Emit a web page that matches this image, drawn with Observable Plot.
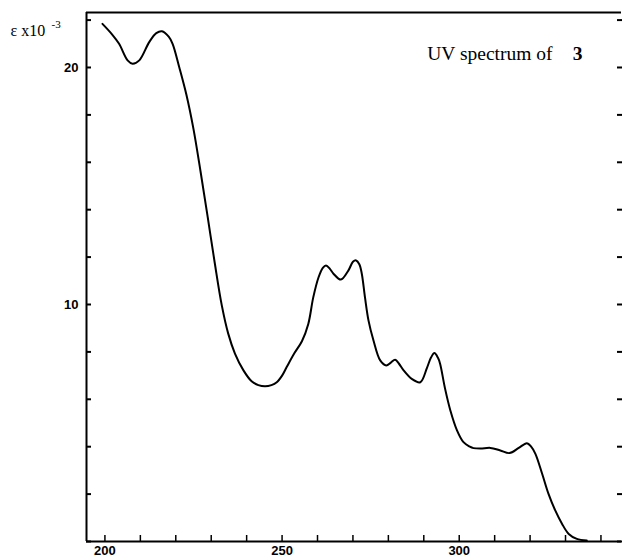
<!DOCTYPE html>
<html><head><meta charset="utf-8">
<script src="https://cdn.jsdelivr.net/npm/d3@7"></script>
<script src="https://cdn.jsdelivr.net/npm/@observablehq/plot@0.6"></script>
<style>body{margin:0;background:#fff}</style>
</head><body><div id="chart"></div>
<script>
const wavelength = [199.3,202,204,206.4,207.8,209.7,212.5,214.5,216.1,218,219.1,221.0,223,225,227,229,231,233.0,234.8,236.7,239.1,241.4,243.3,245.2,247,248.5,250,251.3,253.5,255.6,257.4,258.8,260.3,261.5,262.4,263.5,264.5,266.6,268.7,270.0,270.9,271.8,272.5,273.4,274.4,275.8,277.7,279.4,280.7,281.9,283,284.3,286.6,289.0,290.9,292.0,293.0,294.0,294.6,296.0,297.5,299.4,301.2,303,304.0,306,308.8,311.6,314.2,316.8,319.1,320.3,321.5,323.4,325.2,327.1,329.0,330.9,333.2,336.0];
const epsilon = [21.84,21.4,21.0,20.3,20.16,20.3,21.07,21.45,21.53,21.3,21.0,20.0,18.85,17.4,15.6,13.7,11.75,9.95,8.77,7.93,7.22,6.76,6.6,6.55,6.6,6.72,7.0,7.36,7.95,8.45,9.18,10.3,11.15,11.55,11.65,11.5,11.3,11.05,11.43,11.8,11.86,11.7,11.3,10.3,9.32,8.48,7.64,7.43,7.55,7.67,7.5,7.22,6.86,6.72,7.33,7.75,7.95,7.75,7.5,6.45,5.53,4.68,4.19,4.0,3.94,3.92,3.95,3.84,3.73,3.95,4.15,4.0,3.70,2.86,2.01,1.31,0.75,0.32,0.11,0.04];
const xMajorTicks = [200, 250, 300];
const xMinorTicks = [200,210,220,230,240,250,260,270,280,290,300,310,320,330,340];
const yTicks = [0,2,4,6,8,10,12,14,16,18,20,22];
const yLabelTicks = [10, 20];
const xDomain = [194.8, 345.8];
const yDomain = [0, 22.32];
const titleText = "UV spectrum of";
const titleNumber = "3";
const yLabelText = "ε x10";
const yLabelExp = "-3";

const data = wavelength.map((w, i) => ({w, e: epsilon[i]}));
const tickFont = "'Liberation Sans', Arial, sans-serif";
const serif = "'Liberation Serif', 'Times New Roman', serif";

const plot = Plot.plot({
  width: 622, height: 560,
  marginLeft: 86, marginTop: 12, marginBottom: 19, marginRight: 1,
  x: {domain: xDomain, label: null},
  y: {domain: yDomain, label: null},
  style: {background: "white", color: "black", overflow: "visible"},
  marks: [
    Plot.axisX(xMinorTicks, {tickSize: -6, tickFormat: () => "", strokeWidth: 1.5, label: null}),
    Plot.axisX(xMajorTicks, {tickSize: 0, tickPadding: 4, fontSize: 13, fontWeight: "bold", fontFamily: tickFont, label: null}),
    Plot.axisY(yTicks, {tickSize: -5, tickFormat: () => "", strokeWidth: 2, label: null}),
    Plot.axisY(yTicks, {anchor: "right", tickSize: -5, tickFormat: () => "", strokeWidth: 2, label: null}),
    Plot.axisY(yLabelTicks, {tickSize: 0, tickPadding: 8, fontSize: 13, fontWeight: "bold", fontFamily: tickFont, label: null}),
    Plot.ruleX([xDomain[0]], {strokeWidth: 2}),
    Plot.ruleY([yDomain[0]], {strokeWidth: 2}),
    Plot.ruleY([yDomain[1]], {strokeWidth: 2}),
    Plot.line(data, {x: "w", y: "e", curve: "catmull-rom", strokeWidth: 2}),
    Plot.text([titleText], {frameAnchor: "top-right", lineAnchor: "middle", textAnchor: "end", dx: -69, dy: 41.5, fontSize: 19.5, fontFamily: serif}),
    Plot.text([titleNumber], {frameAnchor: "top-right", lineAnchor: "middle", textAnchor: "end", dx: -39, dy: 41.5, fontSize: 19.5, fontWeight: "bold", fontFamily: serif}),
    Plot.text([yLabelText], {frameAnchor: "top-left", lineAnchor: "middle", textAnchor: "start", dx: -76, dy: 18.5, fontSize: 16, fontFamily: serif}),
    Plot.text([yLabelExp], {frameAnchor: "top-left", lineAnchor: "middle", textAnchor: "start", dx: -35, dy: 12, fontSize: 11, fontFamily: serif})
  ]
});
document.getElementById("chart").append(plot);
</script>
</body></html>
